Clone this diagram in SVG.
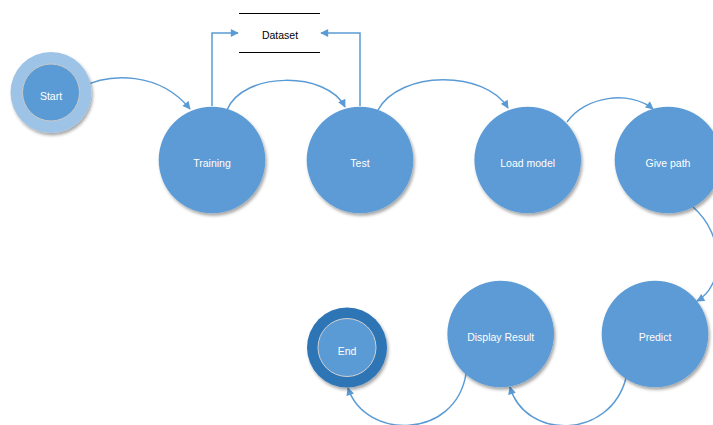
<svg xmlns="http://www.w3.org/2000/svg" width="713" height="425" viewBox="0 0 713 425">
  <style>
    .node { fill: #5B9BD5; filter: url(#shadow); }
    .label { fill: #FFFFFF; font-family: "Liberation Sans", Arial, sans-serif; font-size: 10.5px; text-anchor: middle; }
    .dlabel { fill: #000000; font-family: "Liberation Sans", Arial, sans-serif; font-size: 10.5px; text-anchor: middle; }
    .edge { fill: none; stroke: #5B9BD5; stroke-width: 1.5; marker-end: url(#arrow); }
    .store { stroke: #000000; stroke-width: 1; }
  </style>
  <defs>
    <filter id="shadow" x="-20%" y="-20%" width="150%" height="150%">
      <feDropShadow dx="1.5" dy="2.5" stdDeviation="1.6" flood-color="#000000" flood-opacity="0.35"/>
    </filter>
    <marker id="arrow" viewBox="0 0 10 10" refX="9" refY="5" markerWidth="9" markerHeight="8" markerUnits="userSpaceOnUse" orient="auto">
      <path d="M0,0 L10,5 L0,10 z" fill="#5B9BD5"/>
    </marker>
  </defs>

  <rect width="713" height="425" fill="#FFFFFF"/>

  <!-- data store -->
  <g id="dataset">
    <line class="store" x1="239" y1="13.5" x2="320" y2="13.5"/>
    <line class="store" x1="239" y1="52.5" x2="320" y2="52.5"/>
    <text class="dlabel" x="280" y="39">Dataset</text>
  </g>

  <!-- connectors -->
  <g id="connectors">
    <path class="edge" d="M212,106 V33 H238"/>
    <path class="edge" d="M360,106 V33 H321"/>
    <path class="edge" d="M80,88 C110,72 160,72 190,109"/>
    <path class="edge" d="M227,110 C243,71 327,71 345,107"/>
    <path class="edge" d="M378,110 C400,70 485,70 508,108"/>
    <path class="edge" d="M567,122 C585,96 630,90 653,109"/>
    <path class="edge" d="M693,207 C725,235 725,285 697,301"/>
    <path class="edge" d="M626,378 C610,440 525,440 510,387"/>
    <path class="edge" d="M466,374 C455,440 365,440 348,388"/>
  </g>

  <g id="start">
    <circle cx="51" cy="92.5" r="40.5" fill="#9DC3E6" filter="url(#shadow)"/>
    <circle cx="51" cy="92.5" r="28.5" fill="#5B9BD5" stroke="#C9C9C9" stroke-width="1"/>
    <text class="label" x="51" y="100">Start</text>
  </g>

  <g id="training">
    <circle class="node" cx="212" cy="160" r="53.3"/>
    <text class="label" x="212" y="167">Training</text>
  </g>

  <g id="test">
    <circle class="node" cx="360" cy="160" r="53.3"/>
    <text class="label" x="360" y="167">Test</text>
  </g>

  <g id="load-model">
    <circle class="node" cx="527.7" cy="160" r="53.3"/>
    <text class="label" x="527.7" y="167">Load model</text>
  </g>

  <g id="give-path">
    <circle class="node" cx="668" cy="160" r="53.3"/>
    <text class="label" x="668" y="167">Give path</text>
  </g>

  <g id="predict">
    <circle class="node" cx="655" cy="334" r="53.3"/>
    <text class="label" x="655" y="341">Predict</text>
  </g>

  <g id="display-result">
    <circle class="node" cx="500.7" cy="334" r="53.3"/>
    <text class="label" x="500.7" y="341">Display Result</text>
  </g>

  <g id="end">
    <circle cx="347" cy="347.5" r="40" fill="#2E75B6" filter="url(#shadow)"/>
    <circle cx="347" cy="347.5" r="29" fill="#5B9BD5" stroke="#D0D0D0" stroke-width="1"/>
    <text class="label" x="347" y="355">End</text>
  </g>
</svg>
